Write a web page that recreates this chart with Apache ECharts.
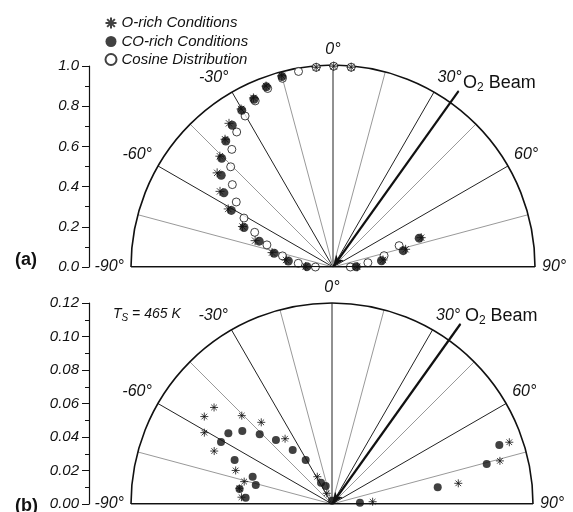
<!DOCTYPE html>
<html>
<head>
<meta charset="utf-8">
<script src="https://cdn.jsdelivr.net/npm/echarts@6/dist/echarts.min.js"></script>
<style>
html, body { margin: 0; padding: 0; background: #fff; }
#main { width: 573px; height: 512px; }
</style>
</head>
<body>
<div id="main"></div>
<script>
// angles in degrees from the surface normal, values = signal

// (a) normalised angular distribution
var oRichAngA = [-89.0, -81.5, -76.7, -71.3, -65.9, -61.0, -56.2, -50.9, -45.6, -40.2, -35.9, -30.2, -25.2, -20.3, -15.0, -4.8, 0.2, 5.2, 71.6, 76.3, 82.0, 89.5];
var oRichValA = [0.135, 0.235, 0.310, 0.407, 0.491, 0.593, 0.673, 0.739, 0.784, 0.828, 0.878, 0.905, 0.925, 0.955, 0.980, 0.992, 0.994, 0.993, 0.460, 0.370, 0.250, 0.120];

var coRichAngA = [-89.3, -82.3, -76.8, -70.7, -66.1, -60.9, -55.8, -50.6, -45.7, -40.4, -35.4, -30.2, -25.2, -20.3, -15.0, 71.5, 76.9, 82.6, 89.5];
var coRichValA = [0.129, 0.223, 0.299, 0.387, 0.482, 0.576, 0.653, 0.716, 0.770, 0.819, 0.861, 0.898, 0.918, 0.951, 0.976, 0.450, 0.357, 0.242, 0.115];

var cosAngA = [-90, -83.9, -77.6, -71.5, -66.1, -61.2, -56.1, -50.7, -45.6, -40.7, -35.5, -30.2, -25.1, -20.1, -15.0, -10.0, -4.8, 0.2, 5.2, 72.1, 77.5, 83.0, 90];
var cosValA = [0.087, 0.173, 0.256, 0.345, 0.424, 0.503, 0.577, 0.644, 0.709, 0.768, 0.821, 0.865, 0.908, 0.941, 0.967, 0.983, 0.992, 0.994, 0.993, 0.344, 0.259, 0.174, 0.086];

// (b) Ts = 465 K
var oRichAngB = [-85.7, -80.4, -75.7, -70.8, -65.8, -60.8, -55.6, -50.7, -45.6, -40.9, -35.7, -28.3, -26.0, 70.8, 75.6, 80.7, 86.8];
var oRichValB = [0.0542, 0.0561, 0.0541, 0.0609, 0.0771, 0.0873, 0.0924, 0.0910, 0.0754, 0.0645, 0.0480, 0.0185, 0.0071, 0.1121, 0.1035, 0.0764, 0.0243];

var coRichAngB = [-85.8, -80.8, -76.0, -71.0, -65.7, -60.8, -55.7, -50.9, -46.0, -41.2, -36.0, -30.9, -27.3, -19.3, 0, 70.6, 75.5, 81.0, 87.3];
var coRichValB = [0.0517, 0.0559, 0.0469, 0.0501, 0.0638, 0.0759, 0.0749, 0.0690, 0.0600, 0.0508, 0.0399, 0.0306, 0.0143, 0.0114, 0.002, 0.1059, 0.0954, 0.0639, 0.0167];

// O2 beam direction and length (fraction of the outer radius)
var beamAngle = 35.5;
var beamLenA = 1.07;
var beamLenB = 1.10;

var maxA = 1.0;
var maxB = 0.12;

var FONT = '"Liberation Sans", Arial, sans-serif';
var STAR = 'path://M5,0L5,10M0,5L10,5M1.5,1.5L8.5,8.5M8.5,1.5L1.5,8.5';

// outer (overlay) polar is 12% bigger so the beam can run past the rim
var OVER = 1.12;
var centerA = [333, 267], radA = 202;
var centerB = [332, 504], radB = 201;

function pts(ang, val) {
    return ang.map(function (a, i) { return [val[i], a]; });
}

function angleAxis(idx, visible) {
    return {
        polarIndex: idx,
        type: 'value',
        show: visible,
        min: -90,
        max: 90,
        interval: 15,
        startAngle: 180,
        endAngle: 0,
        clockwise: true,
        axisLine: { show: true, lineStyle: { color: '#111', width: 1.6 } },
        axisTick: { show: false },
        splitLine: { show: visible, lineStyle: { color: ['#222', '#999'], width: 1 } },
        axisLabel: {
            show: visible,
            margin: 7,
            color: '#111',
            fontSize: 16,
            fontStyle: 'italic',
            fontFamily: FONT,
            formatter: function (v) { return v % 30 === 0 ? v + '°' : ''; }
        }
    };
}

function yAxis(idx, max, step, digits) {
    return {
        gridIndex: idx,
        type: 'value',
        min: 0,
        max: max,
        interval: step,
        axisLine: { show: true, lineStyle: { color: '#111', width: 1.2 } },
        axisTick: { show: true, length: 7, lineStyle: { color: '#111' } },
        minorTick: { show: true, splitNumber: 2, length: 4, lineStyle: { color: '#111' } },
        splitLine: { show: false },
        axisLabel: {
            margin: 10,
            color: '#111',
            fontSize: 15,
            fontStyle: 'italic',
            fontFamily: FONT,
            formatter: function (v) { return v.toFixed(digits); }
        }
    };
}

function baseline(idx, max) {
    return {
        type: 'line',
        coordinateSystem: 'polar',
        polarIndex: idx,
        silent: true,
        symbol: 'none',
        lineStyle: { color: '#111', width: 2 },
        data: [[max, -90], [0, 0], [max, 90]]
    };
}

function beam(idx, len) {
    return {
        type: 'line',
        coordinateSystem: 'polar',
        polarIndex: idx,
        silent: true,
        clip: false,
        showSymbol: true,
        z: 3,
        lineStyle: { color: '#111', width: 2.2 },
        itemStyle: { color: '#111' },
        data: [
            { value: [0, beamAngle], symbol: 'arrow', symbolSize: [7, 12], symbolRotate: 180 - beamAngle },
            {
                value: [len, beamAngle], symbol: 'circle', symbolSize: 1,
                label: {
                    show: true, position: 'right', distance: 4, offset: [0, -8],
                    formatter: '{a|O}{s|2}{a| Beam}',
                    rich: {
                        a: { fontSize: 18, fontFamily: FONT, color: '#111', lineHeight: 22 },
                        s: { fontSize: 12, fontFamily: FONT, color: '#111', lineHeight: 22, verticalAlign: 'bottom' }
                    }
                }
            }
        ]
    };
}

var chart = echarts.init(document.getElementById('main'));

var option = {
    animation: false,
    backgroundColor: '#fff',
    title: [
        { text: '(a)', left: 10, top: 246, textStyle: { fontSize: 18, fontWeight: 'bold', fontFamily: FONT, color: '#111' } },
        { text: '(b)', left: 10, top: 492, textStyle: { fontSize: 18, fontWeight: 'bold', fontFamily: FONT, color: '#111' } },
        {
            text: '{i|T}{s|S}{i| = 465 K}', left: 108, top: 300,
            textStyle: {
                fontWeight: 'normal',
                rich: {
                    i: { fontSize: 14, fontStyle: 'italic', fontWeight: 'normal', fontFamily: FONT, color: '#111', lineHeight: 18 },
                    s: { fontSize: 10, fontStyle: 'italic', fontWeight: 'normal', fontFamily: FONT, color: '#111', lineHeight: 18, verticalAlign: 'bottom' }
                }
            }
        }
    ],
    legend: {
        orient: 'vertical',
        left: 98,
        top: 10,
        itemWidth: 11,
        itemHeight: 11,
        itemGap: 3,
        textStyle: { fontSize: 15, fontStyle: 'italic', fontFamily: FONT, color: '#111' },
        data: [
            { name: 'O-rich Conditions', icon: STAR },
            { name: 'CO-rich Conditions', icon: 'circle' },
            { name: 'Cosine Distribution', icon: 'circle' }
        ]
    },
    grid: [
        { left: 89, top: 66, width: 10, height: 201 },
        { left: 89, top: 303, width: 10, height: 201 }
    ],
    xAxis: [
        { gridIndex: 0, show: false, min: 0, max: 1 },
        { gridIndex: 1, show: false, min: 0, max: 1 }
    ],
    yAxis: [
        yAxis(0, maxA, 0.2, 1),
        yAxis(1, maxB, 0.02, 2)
    ],
    polar: [
        { center: centerA, radius: radA },
        { center: centerB, radius: radB },
        { center: centerA, radius: radA * OVER },
        { center: centerB, radius: radB * OVER }
    ],
    angleAxis: [angleAxis(0, true), angleAxis(1, true), angleAxis(2, false), angleAxis(3, false)],
    radiusAxis: [
        { polarIndex: 0, min: 0, max: maxA, show: false },
        { polarIndex: 1, min: 0, max: maxB, show: false },
        { polarIndex: 2, min: 0, max: maxA * OVER, show: false },
        { polarIndex: 3, min: 0, max: maxB * OVER, show: false }
    ],
    series: [
        baseline(0, maxA),
        baseline(1, maxB),
        beam(2, beamLenA * maxA),
        beam(3, beamLenB * maxB),
        {
            name: 'Cosine Distribution', type: 'scatter', coordinateSystem: 'polar', polarIndex: 0,
            symbol: 'circle', symbolSize: 8,
            itemStyle: { color: '#fff', borderColor: '#111', borderWidth: 1 },
            data: pts(cosAngA, cosValA)
        },
        {
            name: 'CO-rich Conditions', type: 'scatter', coordinateSystem: 'polar', polarIndex: 0,
            symbol: 'circle', symbolSize: 9,
            itemStyle: { color: '#111' },
            data: pts(coRichAngA, coRichValA)
        },
        {
            name: 'O-rich Conditions', type: 'scatter', coordinateSystem: 'polar', polarIndex: 0,
            symbol: STAR, symbolSize: 9,
            itemStyle: { color: 'none', borderColor: '#111', borderWidth: 1 },
            data: pts(oRichAngA, oRichValA)
        },
        {
            name: 'CO-rich Conditions', type: 'scatter', coordinateSystem: 'polar', polarIndex: 1,
            symbol: 'circle', symbolSize: 8,
            itemStyle: { color: '#111' },
            data: pts(coRichAngB, coRichValB)
        },
        {
            name: 'O-rich Conditions', type: 'scatter', coordinateSystem: 'polar', polarIndex: 1,
            symbol: STAR, symbolSize: 8,
            itemStyle: { color: 'none', borderColor: '#111', borderWidth: 1 },
            data: pts(oRichAngB, oRichValB)
        }
    ]
};

chart.setOption(option);
</script>
</body>
</html>
